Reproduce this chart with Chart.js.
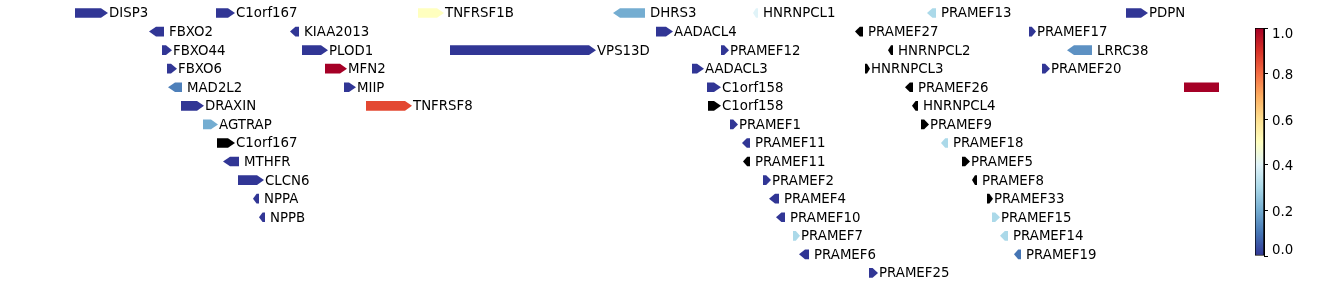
<!DOCTYPE html>
<html>
<head>
<meta charset="utf-8">
<script src="https://cdn.jsdelivr.net/npm/chart.js@4.4.0/dist/chart.umd.min.js"></script>
<style>
  body { margin:0; background:#fff; }
  #wrap { position:relative; width:1338px; height:285px; }
  #genes_box { position:absolute; left:0; top:0; width:1240px; height:285px; }
  #cbar_box { position:absolute; left:1240px; top:0; width:98px; height:285px; }
</style>
</head>
<body>
<div id="wrap">
  <div id="genes_box"><canvas id="genes"></canvas></div>
  <div id="cbar_box"><canvas id="cbar"></canvas></div>
</div>
<script>
// gene track data (positions in plot units)
var geneNames  = ['DISP3','C1orf167','TNFRSF1B','DHRS3','HNRNPCL1','PRAMEF13','PDPN',
                  'FBXO2','KIAA2013','AADACL4','PRAMEF27','PRAMEF17',
                  'FBXO44','PLOD1','VPS13D','PRAMEF12','HNRNPCL2','LRRC38',
                  'FBXO6','MFN2','AADACL3','HNRNPCL3','PRAMEF20',
                  'MAD2L2','MIIP','C1orf158','PRAMEF26','',
                  'DRAXIN','TNFRSF8','C1orf158','HNRNPCL4',
                  'AGTRAP','PRAMEF1','PRAMEF9',
                  'C1orf167','PRAMEF11','PRAMEF18',
                  'MTHFR','PRAMEF11','PRAMEF5',
                  'CLCN6','PRAMEF2','PRAMEF8',
                  'NPPA','PRAMEF4','PRAMEF33',
                  'NPPB','PRAMEF10','PRAMEF15',
                  'PRAMEF7','PRAMEF14',
                  'PRAMEF6','PRAMEF19',
                  'PRAMEF25'];
var geneStart  = [75,216,418,613,753,927,1126, 149,290,656,855,1029, 162,302,450,721,888,1067,
                  167,325,692,865,1042, 168,344,707,905,1184, 181,366,708,912, 203,730,921,
                  217,742,941, 223,743,962, 238,763,972, 253,769,987, 259,776,992, 793,1000,
                  799,1014, 869];
var geneEnd    = [108,235,444,645,758,936,1148, 164,299,673,863,1036, 172,328,596,729,893,1092,
                  177,347,704,870,1050, 182,356,721,913,1219, 204,412,721,918, 218,738,929,
                  235,750,948, 239,750,970, 264,771,977, 259,779,993, 265,785,1000, 800,1008,
                  809,1021, 878];
var geneStrand = [1,1,1,-1,-1,-1,1, -1,-1,1,-1,1, 1,1,1,1,-1,-1,
                  1,1,1,1,1, -1,1,1,-1,0, 1,1,1,-1, 1,1,1,
                  1,-1,-1, -1,-1,1, 1,1,-1, -1,-1,1, -1,-1,1, 1,-1,
                  -1,-1, 1];
var geneRow    = [0,0,0,0,0,0,0, 1,1,1,1,1, 2,2,2,2,2,2,
                  3,3,3,3,3, 4,4,4,4,4, 5,5,5,5, 6,6,6,
                  7,7,7, 8,8,8, 9,9,9, 10,10,10, 11,11,11, 12,12,
                  13,13, 14];
// null = no score (drawn black)
var geneScore  = [0,0,0.5,0.2,0.4,0.3,0, 0,0,0,null,0, 0,0,0,0,null,0.15,
                  0,1.0,0,null,0, 0.12,0,0,null,1.0, 0,0.86,null,null, 0.2,0,null,
                  null,0,0.3, 0,null,null, 0,0,null, 0,0,null, 0,0,0.3, 0.3,0.3,
                  0,0.1, 0];

var cbarTicks = [0,0.2,0.4,0.6,0.8,1.0];
// RdYlBu reversed
var cmapColors = ['#313695','#4575b4','#74add1','#abd9e9','#e0f3f8','#ffffbf',
                  '#fee090','#fdae61','#f46d43','#d73027','#a50026'];

Chart.defaults.font.family = 'DejaVu Sans';
Chart.defaults.font.size = 13.33;
Chart.defaults.color = '#000';

function hexToRgb(h){
  return [parseInt(h.substr(1,2),16),parseInt(h.substr(3,2),16),parseInt(h.substr(5,2),16)];
}
function cmap(v){
  if(v===null) return '#000000';
  var t=Math.max(0,Math.min(1,v))*(cmapColors.length-1);
  var i=Math.min(Math.floor(t),cmapColors.length-2);
  var f=t-i;
  var a=hexToRgb(cmapColors[i]), b=hexToRgb(cmapColors[i+1]);
  return 'rgb('+Math.round(a[0]+(b[0]-a[0])*f)+','+Math.round(a[1]+(b[1]-a[1])*f)+','+Math.round(a[2]+(b[2]-a[2])*f)+')';
}

var geneArrows = {
  id:'geneArrows',
  afterDatasetsDraw:function(chart){
    var ctx=chart.ctx, xs=chart.scales.x, ys=chart.scales.y;
    ctx.save();
    ctx.font='13.33px "DejaVu Sans"';
    ctx.textBaseline='middle';
    for(var i=0;i<geneNames.length;i++){
      var x0=xs.getPixelForValue(geneStart[i]);
      var x1=xs.getPixelForValue(geneEnd[i]);
      var yc=ys.getPixelForValue(geneRow[i]);
      var h=Math.abs(ys.getPixelForValue(geneRow[i]+0.26)-yc);
      var hl=Math.min(7,(x1-x0)*0.6);
      ctx.fillStyle=cmap(geneScore[i]);
      ctx.beginPath();
      if(geneStrand[i]>0){
        ctx.moveTo(x0,yc-h); ctx.lineTo(x1-hl,yc-h); ctx.lineTo(x1,yc);
        ctx.lineTo(x1-hl,yc+h); ctx.lineTo(x0,yc+h);
      }else if(geneStrand[i]<0){
        ctx.moveTo(x1,yc-h); ctx.lineTo(x0+hl,yc-h); ctx.lineTo(x0,yc);
        ctx.lineTo(x0+hl,yc+h); ctx.lineTo(x1,yc+h);
      }else{
        ctx.rect(x0,yc-h,x1-x0,2*h);
      }
      ctx.closePath();
      ctx.fill();
      if(geneNames[i]){
        ctx.fillStyle='#000';
        ctx.fillText(geneNames[i],x1+(geneStrand[i]<0?5:1),yc+1);
      }
    }
    ctx.restore();
  }
};

var midPoints=[];
for(var i=0;i<geneNames.length;i++){
  midPoints.push({x:(geneStart[i]+geneEnd[i])/2,y:geneRow[i]});
}

new Chart(document.getElementById('genes'),{
  type:'scatter',
  data:{datasets:[{data:midPoints,pointRadius:0,pointHoverRadius:0}]},
  options:{
    responsive:true,
    maintainAspectRatio:false,
    animation:false,
    layout:{padding:0},
    plugins:{legend:{display:false},tooltip:{enabled:false}},
    scales:{
      x:{type:'linear',min:0,max:1240,display:false},
      y:{type:'linear',min:-0.7,max:14.65,reverse:true,display:false}
    }
  },
  plugins:[geneArrows]
});

// colorbar
new Chart(document.getElementById('cbar'),{
  type:'bar',
  data:{
    labels:[''],
    datasets:[{
      data:[[cbarTicks[0],cbarTicks[cbarTicks.length-1]]],
      barPercentage:1,
      categoryPercentage:1,
      borderWidth:1,
      borderColor:'#000',
      borderSkipped:false,
      backgroundColor:function(c){
        var ca=c.chart.chartArea;
        if(!ca) return '#313695';
        var g=c.chart.ctx.createLinearGradient(0,ca.bottom,0,ca.top);
        for(var k=0;k<cmapColors.length;k++){
          g.addColorStop(k/(cmapColors.length-1),cmapColors[k]);
        }
        return g;
      }
    }]
  },
  options:{
    responsive:true,
    maintainAspectRatio:false,
    animation:false,
    layout:{padding:{left:15,top:28,bottom:29,right:0}},
    plugins:{legend:{display:false},tooltip:{enabled:false}},
    scales:{
      x:{display:false},
      y:{
        position:'right',
        min:0,max:1,
        border:{display:true,color:'#000',width:1},
        grid:{drawOnChartArea:false,drawTicks:true,tickLength:4,color:'#000'},
        ticks:{stepSize:0.2,padding:4,color:'#000',labelOffset:2,
          font:function(c){
            // end labels sit a little inside the bar, as in the reference
            var v=c.tick?c.tick.value:0.5;
            var lh=16;
            if(v>0.99) lh=10;
            else if(v<0.01) lh=14;
            return {family:'DejaVu Sans',size:13.33,lineHeight:lh+'px'};
          },
          callback:function(v){
            var s=Number(v).toFixed(1);
            if(v>0.99) return ['',s];
            if(v<0.01) return [s,''];
            return s;
          }},
        afterFit:function(s){ s.width=74; }
      }
    }
  }
});
</script>
</body>
</html>
